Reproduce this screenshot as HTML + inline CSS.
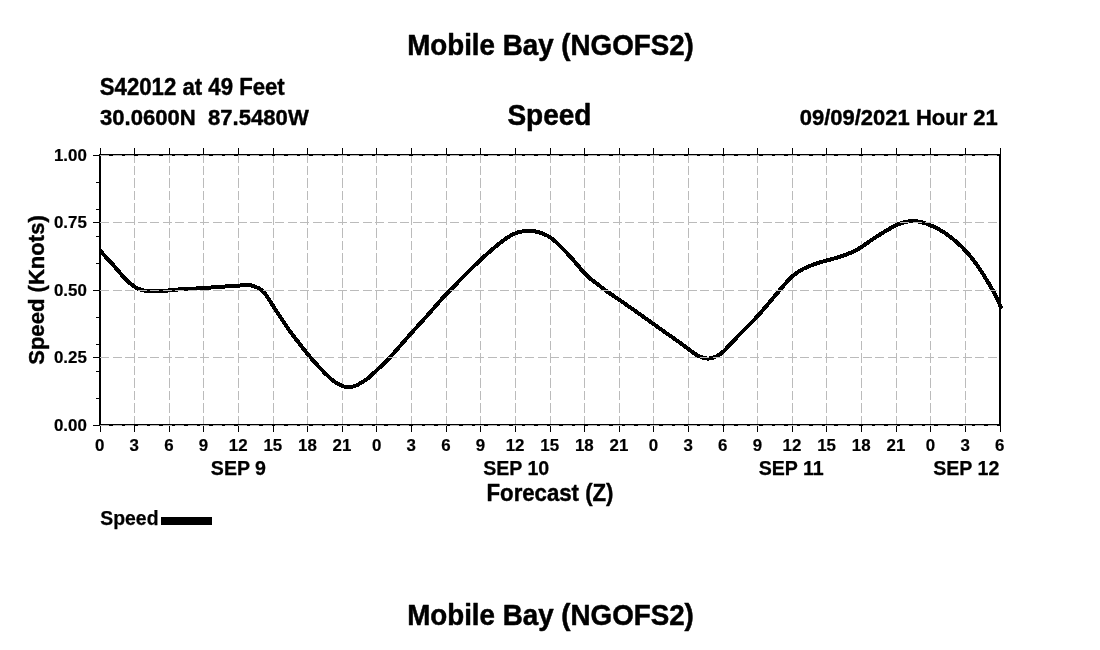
<!DOCTYPE html>
<html><head><meta charset="utf-8"><title>Mobile Bay (NGOFS2)</title>
<style>html,body{margin:0;padding:0;background:#fff}svg{display:block;filter:grayscale(1)}text{font-family:"Liberation Sans",Arial,Helvetica,sans-serif;font-weight:bold;fill:#000;stroke:#000;stroke-linejoin:round}</style></head><body>
<svg width="1100" height="650" viewBox="0 0 1100 650">
<rect width="1100" height="650" fill="#fff"/>
<g stroke="#bbbbbb" stroke-width="1" stroke-dasharray="9.3 3.2" shape-rendering="crispEdges" fill="none">
<line x1="134.5" y1="425" x2="134.5" y2="155"/>
<line x1="169.5" y1="425" x2="169.5" y2="155"/>
<line x1="203.5" y1="425" x2="203.5" y2="155"/>
<line x1="238.5" y1="425" x2="238.5" y2="155"/>
<line x1="273.5" y1="425" x2="273.5" y2="155"/>
<line x1="307.5" y1="425" x2="307.5" y2="155"/>
<line x1="342.5" y1="425" x2="342.5" y2="155"/>
<line x1="376.5" y1="425" x2="376.5" y2="155"/>
<line x1="411.5" y1="425" x2="411.5" y2="155"/>
<line x1="446.5" y1="425" x2="446.5" y2="155"/>
<line x1="480.5" y1="425" x2="480.5" y2="155"/>
<line x1="515.5" y1="425" x2="515.5" y2="155"/>
<line x1="550.5" y1="425" x2="550.5" y2="155"/>
<line x1="584.5" y1="425" x2="584.5" y2="155"/>
<line x1="619.5" y1="425" x2="619.5" y2="155"/>
<line x1="653.5" y1="425" x2="653.5" y2="155"/>
<line x1="688.5" y1="425" x2="688.5" y2="155"/>
<line x1="723.5" y1="425" x2="723.5" y2="155"/>
<line x1="757.5" y1="425" x2="757.5" y2="155"/>
<line x1="792.5" y1="425" x2="792.5" y2="155"/>
<line x1="826.5" y1="425" x2="826.5" y2="155"/>
<line x1="861.5" y1="425" x2="861.5" y2="155"/>
<line x1="896.5" y1="425" x2="896.5" y2="155"/>
<line x1="930.5" y1="425" x2="930.5" y2="155"/>
<line x1="965.5" y1="425" x2="965.5" y2="155"/>
</g>
<g fill="#000" shape-rendering="crispEdges">
<rect x="99" y="154" width="902" height="2"/>
<rect x="99" y="424" width="902" height="2"/>
<rect x="99" y="154" width="2" height="272"/>
<rect x="999" y="154" width="2" height="272"/>
<rect x="100" y="148" width="1" height="6"/>
<rect x="100" y="426" width="1" height="6"/>
<rect x="134" y="148" width="1" height="6"/>
<rect x="134" y="426" width="1" height="6"/>
<rect x="169" y="148" width="1" height="6"/>
<rect x="169" y="426" width="1" height="6"/>
<rect x="203" y="148" width="1" height="6"/>
<rect x="203" y="426" width="1" height="6"/>
<rect x="238" y="148" width="1" height="6"/>
<rect x="238" y="426" width="1" height="6"/>
<rect x="273" y="148" width="1" height="6"/>
<rect x="273" y="426" width="1" height="6"/>
<rect x="307" y="148" width="1" height="6"/>
<rect x="307" y="426" width="1" height="6"/>
<rect x="342" y="148" width="1" height="6"/>
<rect x="342" y="426" width="1" height="6"/>
<rect x="376" y="148" width="1" height="6"/>
<rect x="376" y="426" width="1" height="6"/>
<rect x="411" y="148" width="1" height="6"/>
<rect x="411" y="426" width="1" height="6"/>
<rect x="446" y="148" width="1" height="6"/>
<rect x="446" y="426" width="1" height="6"/>
<rect x="480" y="148" width="1" height="6"/>
<rect x="480" y="426" width="1" height="6"/>
<rect x="515" y="148" width="1" height="6"/>
<rect x="515" y="426" width="1" height="6"/>
<rect x="550" y="148" width="1" height="6"/>
<rect x="550" y="426" width="1" height="6"/>
<rect x="584" y="148" width="1" height="6"/>
<rect x="584" y="426" width="1" height="6"/>
<rect x="619" y="148" width="1" height="6"/>
<rect x="619" y="426" width="1" height="6"/>
<rect x="653" y="148" width="1" height="6"/>
<rect x="653" y="426" width="1" height="6"/>
<rect x="688" y="148" width="1" height="6"/>
<rect x="688" y="426" width="1" height="6"/>
<rect x="723" y="148" width="1" height="6"/>
<rect x="723" y="426" width="1" height="6"/>
<rect x="757" y="148" width="1" height="6"/>
<rect x="757" y="426" width="1" height="6"/>
<rect x="792" y="148" width="1" height="6"/>
<rect x="792" y="426" width="1" height="6"/>
<rect x="826" y="148" width="1" height="6"/>
<rect x="826" y="426" width="1" height="6"/>
<rect x="861" y="148" width="1" height="6"/>
<rect x="861" y="426" width="1" height="6"/>
<rect x="896" y="148" width="1" height="6"/>
<rect x="896" y="426" width="1" height="6"/>
<rect x="930" y="148" width="1" height="6"/>
<rect x="930" y="426" width="1" height="6"/>
<rect x="965" y="148" width="1" height="6"/>
<rect x="965" y="426" width="1" height="6"/>
<rect x="1000" y="148" width="1" height="6"/>
<rect x="1000" y="426" width="1" height="6"/>
<rect x="96" y="155" width="3" height="1"/>
<rect x="96" y="182" width="3" height="1"/>
<rect x="96" y="209" width="3" height="1"/>
<rect x="96" y="236" width="3" height="1"/>
<rect x="96" y="263" width="3" height="1"/>
<rect x="96" y="290" width="3" height="1"/>
<rect x="96" y="317" width="3" height="1"/>
<rect x="96" y="344" width="3" height="1"/>
<rect x="96" y="371" width="3" height="1"/>
<rect x="96" y="398" width="3" height="1"/>
<rect x="96" y="425" width="3" height="1"/>
<rect x="93" y="155" width="6" height="1"/>
<rect x="93" y="222" width="6" height="1"/>
<rect x="93" y="290" width="6" height="1"/>
<rect x="93" y="357" width="6" height="1"/>
<rect x="93" y="425" width="6" height="1"/>
</g>
<path d="M100.0,250.6 L102.0,252.8 L104.0,255.0 L106.0,257.2 L108.0,259.3 L110.0,261.5 L112.0,263.7 L114.0,265.9 L116.0,268.2 L118.0,270.5 L120.0,272.9 L122.0,275.2 L124.0,277.4 L126.0,279.5 L128.0,281.4 L130.0,283.2 L132.0,284.8 L134.0,286.3 L136.0,287.6 L138.0,288.6 L140.0,289.4 L142.0,290.1 L144.0,290.5 L146.0,290.9 L148.0,291.0 L150.0,291.1 L152.0,291.2 L154.0,291.2 L156.0,291.2 L158.0,291.1 L160.0,291.1 L162.0,291.0 L164.0,290.9 L166.0,290.7 L168.0,290.5 L170.0,290.3 L172.0,290.0 L174.0,289.8 L176.0,289.6 L178.0,289.5 L180.0,289.3 L182.0,289.2 L184.0,289.1 L186.0,288.9 L188.0,288.8 L190.0,288.7 L192.0,288.6 L194.0,288.5 L196.0,288.5 L198.0,288.4 L200.0,288.3 L202.0,288.2 L204.0,288.1 L206.0,287.9 L208.0,287.8 L210.0,287.6 L212.0,287.4 L214.0,287.3 L216.0,287.1 L218.0,287.0 L220.0,286.8 L222.0,286.7 L224.0,286.6 L226.0,286.4 L228.0,286.3 L230.0,286.2 L232.0,286.1 L234.0,286.0 L236.0,285.9 L238.0,285.7 L240.0,285.5 L242.0,285.3 L244.0,285.0 L246.0,284.8 L248.0,284.8 L250.0,285.1 L252.0,285.7 L254.0,286.4 L256.0,287.1 L258.0,287.9 L260.0,289.0 L262.0,290.5 L264.0,292.5 L266.0,295.0 L268.0,297.9 L270.0,301.0 L272.0,304.2 L274.0,307.4 L276.0,310.5 L278.0,313.5 L280.0,316.5 L282.0,319.4 L284.0,322.4 L286.0,325.4 L288.0,328.4 L290.0,331.4 L292.0,334.1 L294.0,336.7 L296.0,339.3 L298.0,341.8 L300.0,344.3 L302.0,346.9 L304.0,349.5 L306.0,352.1 L308.0,354.6 L310.0,357.0 L312.0,359.3 L314.0,361.5 L316.0,363.7 L318.0,365.9 L320.0,368.0 L322.0,370.1 L324.0,372.2 L326.0,374.2 L328.0,376.1 L330.0,378.0 L332.0,379.7 L334.0,381.2 L336.0,382.6 L338.0,383.9 L340.0,384.9 L342.0,385.8 L344.0,386.5 L346.0,386.9 L348.0,387.1 L350.0,387.1 L352.0,386.8 L354.0,386.3 L356.0,385.5 L358.0,384.6 L360.0,383.5 L362.0,382.3 L364.0,381.1 L366.0,379.7 L368.0,378.2 L370.0,376.5 L372.0,374.7 L374.0,372.8 L376.0,371.0 L378.0,369.1 L380.0,367.2 L382.0,365.2 L384.0,363.3 L386.0,361.3 L388.0,359.3 L390.0,357.3 L392.0,355.1 L394.0,352.9 L396.0,350.6 L398.0,348.3 L400.0,346.0 L402.0,343.7 L404.0,341.5 L406.0,339.2 L408.0,336.9 L410.0,334.7 L412.0,332.4 L414.0,330.2 L416.0,328.0 L418.0,325.8 L420.0,323.6 L422.0,321.4 L424.0,319.2 L426.0,317.0 L428.0,314.7 L430.0,312.5 L432.0,310.2 L434.0,307.9 L436.0,305.6 L438.0,303.3 L440.0,301.0 L442.0,298.8 L444.0,296.7 L446.0,294.6 L448.0,292.7 L450.0,290.8 L452.0,288.8 L454.0,286.7 L456.0,284.5 L458.0,282.2 L460.0,280.0 L462.0,277.9 L464.0,275.9 L466.0,273.9 L468.0,272.0 L470.0,270.0 L472.0,268.1 L474.0,266.1 L476.0,264.2 L478.0,262.3 L480.0,260.5 L482.0,258.6 L484.0,256.7 L486.0,254.9 L488.0,253.1 L490.0,251.3 L492.0,249.6 L494.0,247.9 L496.0,246.2 L498.0,244.6 L500.0,243.0 L502.0,241.5 L504.0,240.0 L506.0,238.5 L508.0,237.2 L510.0,236.0 L512.0,234.9 L514.0,233.9 L516.0,233.1 L518.0,232.4 L520.0,231.9 L522.0,231.5 L524.0,231.3 L526.0,231.0 L528.0,230.9 L530.0,230.9 L532.0,231.0 L534.0,231.2 L536.0,231.6 L538.0,232.0 L540.0,232.6 L542.0,233.3 L544.0,234.1 L546.0,235.0 L548.0,236.0 L550.0,237.3 L552.0,238.7 L554.0,240.3 L556.0,242.1 L558.0,244.1 L560.0,246.0 L562.0,248.0 L564.0,250.0 L566.0,252.0 L568.0,254.2 L570.0,256.3 L572.0,258.6 L574.0,260.9 L576.0,263.2 L578.0,265.6 L580.0,268.0 L582.0,270.4 L584.0,272.7 L586.0,274.8 L588.0,276.7 L590.0,278.4 L592.0,280.1 L594.0,281.6 L596.0,283.0 L598.0,284.5 L600.0,286.0 L602.0,287.7 L604.0,289.3 L606.0,290.8 L608.0,292.2 L610.0,293.5 L612.0,294.9 L614.0,296.2 L616.0,297.6 L618.0,299.0 L620.0,300.3 L622.0,301.7 L624.0,303.1 L626.0,304.5 L628.0,305.9 L630.0,307.3 L632.0,308.7 L634.0,310.1 L636.0,311.6 L638.0,313.0 L640.0,314.4 L642.0,315.8 L644.0,317.2 L646.0,318.7 L648.0,320.1 L650.0,321.5 L652.0,322.9 L654.0,324.3 L656.0,325.8 L658.0,327.2 L660.0,328.6 L662.0,330.0 L664.0,331.4 L666.0,332.9 L668.0,334.3 L670.0,335.7 L672.0,337.1 L674.0,338.5 L676.0,339.9 L678.0,341.4 L680.0,342.8 L682.0,344.2 L684.0,345.7 L686.0,347.2 L688.0,348.7 L690.0,350.2 L692.0,351.8 L694.0,353.3 L696.0,354.5 L698.0,355.6 L700.0,356.5 L702.0,357.3 L704.0,357.9 L706.0,358.4 L708.0,358.6 L710.0,358.4 L712.0,357.9 L714.0,357.3 L716.0,356.5 L718.0,355.5 L720.0,354.3 L722.0,352.8 L724.0,350.9 L726.0,348.9 L728.0,346.7 L730.0,344.5 L732.0,342.4 L734.0,340.3 L736.0,338.2 L738.0,336.1 L740.0,334.0 L742.0,332.0 L744.0,330.0 L746.0,328.0 L748.0,326.0 L750.0,324.0 L752.0,322.0 L754.0,319.9 L756.0,317.8 L758.0,315.6 L760.0,313.4 L762.0,311.1 L764.0,308.8 L766.0,306.4 L768.0,304.1 L770.0,301.7 L772.0,299.3 L774.0,297.0 L776.0,294.6 L778.0,292.2 L780.0,289.8 L782.0,287.5 L784.0,285.2 L786.0,282.9 L788.0,280.7 L790.0,278.6 L792.0,276.7 L794.0,275.0 L796.0,273.4 L798.0,272.0 L800.0,270.8 L802.0,269.6 L804.0,268.5 L806.0,267.6 L808.0,266.7 L810.0,265.9 L812.0,265.1 L814.0,264.4 L816.0,263.7 L818.0,263.0 L820.0,262.4 L822.0,261.8 L824.0,261.2 L826.0,260.6 L828.0,260.1 L830.0,259.6 L832.0,259.0 L834.0,258.5 L836.0,257.9 L838.0,257.3 L840.0,256.7 L842.0,256.0 L844.0,255.3 L846.0,254.6 L848.0,253.8 L850.0,253.0 L852.0,252.1 L854.0,251.2 L856.0,250.2 L858.0,249.1 L860.0,247.9 L862.0,246.6 L864.0,245.3 L866.0,243.9 L868.0,242.4 L870.0,241.0 L872.0,239.7 L874.0,238.3 L876.0,237.0 L878.0,235.8 L880.0,234.5 L882.0,233.3 L884.0,232.0 L886.0,230.8 L888.0,229.7 L890.0,228.5 L892.0,227.4 L894.0,226.3 L896.0,225.3 L898.0,224.4 L900.0,223.7 L902.0,223.0 L904.0,222.4 L906.0,221.9 L908.0,221.5 L910.0,221.3 L912.0,221.1 L914.0,221.1 L916.0,221.2 L918.0,221.5 L920.0,221.8 L922.0,222.3 L924.0,222.9 L926.0,223.5 L928.0,224.3 L930.0,225.1 L932.0,226.0 L934.0,226.9 L936.0,227.9 L938.0,228.9 L940.0,230.0 L942.0,231.2 L944.0,232.4 L946.0,233.8 L948.0,235.2 L950.0,236.7 L952.0,238.3 L954.0,239.9 L956.0,241.6 L958.0,243.4 L960.0,245.2 L962.0,247.1 L964.0,249.2 L966.0,251.3 L968.0,253.6 L970.0,255.9 L972.0,258.4 L974.0,261.0 L976.0,263.7 L978.0,266.5 L980.0,269.4 L982.0,272.5 L984.0,275.7 L986.0,279.0 L988.0,282.2 L990.0,285.5 L992.0,288.9 L994.0,292.5 L996.0,296.4 L998.0,300.7 L1000.0,305.1 L1001.5,308.6" fill="none" stroke="#000" stroke-width="4" stroke-linejoin="round" stroke-linecap="butt" shape-rendering="crispEdges"/>
<g stroke="#bbbbbb" stroke-width="1" stroke-dasharray="9.3 3.2" shape-rendering="crispEdges" fill="none">
<line x1="100" y1="155.5" x2="999" y2="155.5"/>
<line x1="100" y1="222.5" x2="999" y2="222.5"/>
<line x1="100" y1="290.5" x2="999" y2="290.5"/>
<line x1="100" y1="357.5" x2="999" y2="357.5"/>
<line x1="100" y1="425.5" x2="999" y2="425.5"/>
</g>
<rect x="161" y="517" width="51" height="8" fill="#000" shape-rendering="crispEdges"/>
<text transform="translate(550.5,54.9) scale(1,1.04)" font-size="27.75" stroke-width="0.5" text-anchor="middle" style="white-space:pre" >Mobile Bay (NGOFS2)</text>
<text transform="translate(550.5,624.5) scale(1,1.04)" font-size="27.75" stroke-width="0.5" text-anchor="middle" style="white-space:pre" >Mobile Bay (NGOFS2)</text>
<text transform="translate(549.4,125) scale(1,1.04)" font-size="28.0" stroke-width="0.5" text-anchor="middle" style="white-space:pre" >Speed</text>
<text transform="translate(99.8,95.2) scale(1,1.04)" font-size="22.2" stroke-width="0.4" text-anchor="start" style="white-space:pre" >S42012 at 49 Feet</text>
<text transform="translate(100,124.7) scale(1,1.04)" font-size="22.1" stroke-width="0.4" text-anchor="start" style="white-space:pre" >30.0600N  87.5480W</text>
<text transform="translate(997.8,124.5) scale(1,1.04)" font-size="22.0" stroke-width="0.4" text-anchor="end" style="white-space:pre" >09/09/2021 Hour 21</text>
<text transform="translate(86.8,430.8) scale(1,0.955)" font-size="16.9" stroke-width="0.2" text-anchor="end" style="white-space:pre" >0.00</text>
<text transform="translate(86.8,363.3) scale(1,0.955)" font-size="16.9" stroke-width="0.2" text-anchor="end" style="white-space:pre" >0.25</text>
<text transform="translate(86.8,295.8) scale(1,0.955)" font-size="16.9" stroke-width="0.2" text-anchor="end" style="white-space:pre" >0.50</text>
<text transform="translate(86.8,228.3) scale(1,0.955)" font-size="16.9" stroke-width="0.2" text-anchor="end" style="white-space:pre" >0.75</text>
<text transform="translate(86.8,160.8) scale(1,0.955)" font-size="16.9" stroke-width="0.2" text-anchor="end" style="white-space:pre" >1.00</text>
<text transform="translate(99.7,450.8) scale(1,0.955)" font-size="16.9" stroke-width="0.2" text-anchor="middle" style="white-space:pre" >0</text>
<text transform="translate(134.3,450.8) scale(1,0.955)" font-size="16.9" stroke-width="0.2" text-anchor="middle" style="white-space:pre" >3</text>
<text transform="translate(168.9,450.8) scale(1,0.955)" font-size="16.9" stroke-width="0.2" text-anchor="middle" style="white-space:pre" >6</text>
<text transform="translate(203.5,450.8) scale(1,0.955)" font-size="16.9" stroke-width="0.2" text-anchor="middle" style="white-space:pre" >9</text>
<text transform="translate(238.2,450.8) scale(1,0.955)" font-size="16.9" stroke-width="0.2" text-anchor="middle" style="white-space:pre" >12</text>
<text transform="translate(272.8,450.8) scale(1,0.955)" font-size="16.9" stroke-width="0.2" text-anchor="middle" style="white-space:pre" >15</text>
<text transform="translate(307.4,450.8) scale(1,0.955)" font-size="16.9" stroke-width="0.2" text-anchor="middle" style="white-space:pre" >18</text>
<text transform="translate(342.0,450.8) scale(1,0.955)" font-size="16.9" stroke-width="0.2" text-anchor="middle" style="white-space:pre" >21</text>
<text transform="translate(376.6,450.8) scale(1,0.955)" font-size="16.9" stroke-width="0.2" text-anchor="middle" style="white-space:pre" >0</text>
<text transform="translate(411.2,450.8) scale(1,0.955)" font-size="16.9" stroke-width="0.2" text-anchor="middle" style="white-space:pre" >3</text>
<text transform="translate(445.9,450.8) scale(1,0.955)" font-size="16.9" stroke-width="0.2" text-anchor="middle" style="white-space:pre" >6</text>
<text transform="translate(480.5,450.8) scale(1,0.955)" font-size="16.9" stroke-width="0.2" text-anchor="middle" style="white-space:pre" >9</text>
<text transform="translate(515.1,450.8) scale(1,0.955)" font-size="16.9" stroke-width="0.2" text-anchor="middle" style="white-space:pre" >12</text>
<text transform="translate(549.7,450.8) scale(1,0.955)" font-size="16.9" stroke-width="0.2" text-anchor="middle" style="white-space:pre" >15</text>
<text transform="translate(584.3,450.8) scale(1,0.955)" font-size="16.9" stroke-width="0.2" text-anchor="middle" style="white-space:pre" >18</text>
<text transform="translate(618.9,450.8) scale(1,0.955)" font-size="16.9" stroke-width="0.2" text-anchor="middle" style="white-space:pre" >21</text>
<text transform="translate(653.5,450.8) scale(1,0.955)" font-size="16.9" stroke-width="0.2" text-anchor="middle" style="white-space:pre" >0</text>
<text transform="translate(688.2,450.8) scale(1,0.955)" font-size="16.9" stroke-width="0.2" text-anchor="middle" style="white-space:pre" >3</text>
<text transform="translate(722.8,450.8) scale(1,0.955)" font-size="16.9" stroke-width="0.2" text-anchor="middle" style="white-space:pre" >6</text>
<text transform="translate(757.4,450.8) scale(1,0.955)" font-size="16.9" stroke-width="0.2" text-anchor="middle" style="white-space:pre" >9</text>
<text transform="translate(792.0,450.8) scale(1,0.955)" font-size="16.9" stroke-width="0.2" text-anchor="middle" style="white-space:pre" >12</text>
<text transform="translate(826.6,450.8) scale(1,0.955)" font-size="16.9" stroke-width="0.2" text-anchor="middle" style="white-space:pre" >15</text>
<text transform="translate(861.2,450.8) scale(1,0.955)" font-size="16.9" stroke-width="0.2" text-anchor="middle" style="white-space:pre" >18</text>
<text transform="translate(895.9,450.8) scale(1,0.955)" font-size="16.9" stroke-width="0.2" text-anchor="middle" style="white-space:pre" >21</text>
<text transform="translate(930.5,450.8) scale(1,0.955)" font-size="16.9" stroke-width="0.2" text-anchor="middle" style="white-space:pre" >0</text>
<text transform="translate(965.1,450.8) scale(1,0.955)" font-size="16.9" stroke-width="0.2" text-anchor="middle" style="white-space:pre" >3</text>
<text transform="translate(999.7,450.8) scale(1,0.955)" font-size="16.9" stroke-width="0.2" text-anchor="middle" style="white-space:pre" >6</text>
<text transform="translate(238.4,474.6) scale(1,1.0)" font-size="19.6" stroke-width="0.25" text-anchor="middle" style="white-space:pre" >SEP 9</text>
<text transform="translate(516.2,474.6) scale(1,1.0)" font-size="19.6" stroke-width="0.25" text-anchor="middle" style="white-space:pre" >SEP 10</text>
<text transform="translate(791.2,474.6) scale(1,1.0)" font-size="19.6" stroke-width="0.25" text-anchor="middle" style="white-space:pre" >SEP 11</text>
<text transform="translate(999.3,474.6) scale(1,1.0)" font-size="19.6" stroke-width="0.25" text-anchor="end" style="white-space:pre" >SEP 12</text>
<text transform="translate(550,500.8) scale(1,1.04)" font-size="22.2" stroke-width="0.4" text-anchor="middle" style="white-space:pre" >Forecast (Z)</text>
<text transform="translate(100.3,524.5) scale(1,1.0)" font-size="19.4" stroke-width="0.25" text-anchor="start" style="white-space:pre" >Speed</text>
<text transform="translate(44.2,290) rotate(-90) scale(1,1.04)" font-size="22.1" stroke-width="0.4" text-anchor="middle">Speed (Knots)</text>
</svg></body></html>
